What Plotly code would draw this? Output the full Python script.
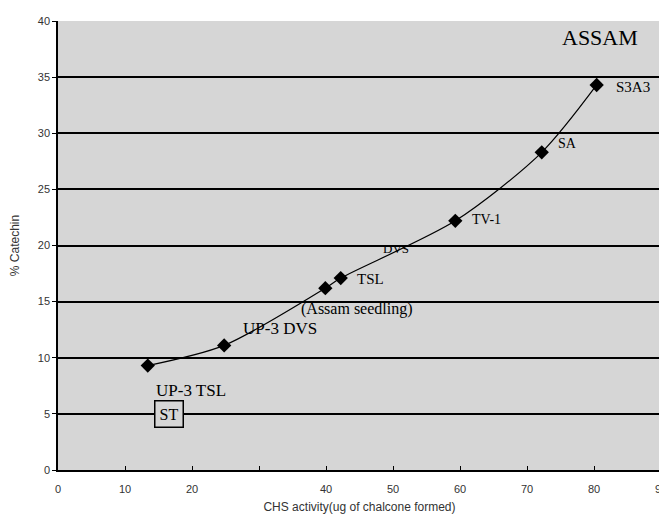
import plotly.graph_objects as go

# Data
chs_activity = [13.4, 24.8, 39.9, 42.2, 59.3, 72.2, 80.4]
pct_catechin = [9.3, 11.1, 16.2, 17.1, 22.2, 28.3, 34.3]

label_text = ["UP-3 TSL", "UP-3 DVS", "(Assam seedling)", "TSL", "DVS", "TV-1", "SA", "S3A3"]
label_x = [19.9, 33.1, 44.6, 46.6, 50.4, 63.9, 76.1, 85.8]
label_y = [7.1, 12.6, 14.3, 17.0, 19.7, 22.3, 29.1, 34.1]

box_label = "ST"
box_x = 16.6
box_y = 5.0

corner_label = "ASSAM"

x_tickvals = [0, 10, 20, 30, 40, 50, 60, 70, 80, 90]
x_ticktext = ["0", "10", "20", "", "40", "50", "60", "70", "80", "90"]
y_tickvals = [0, 5, 10, 15, 20, 25, 30, 35, 40]

# styling (font size per label)
label_font_sizes = [17, 17, 16, 15, 13, 14, 14, 15]

fig = go.Figure()
fig.add_trace(go.Scatter(
    x=chs_activity, y=pct_catechin, mode="lines+markers",
    line=dict(color="black", width=1.2, shape="spline", smoothing=0.8),
    marker=dict(symbol="diamond", size=11, color="black"),
    showlegend=False, hoverinfo="skip", cliponaxis=False))

serif = "Liberation Serif"
for t, x, y, fs in zip(label_text, label_x, label_y, label_font_sizes):
    fig.add_annotation(x=x, y=y, text=t, showarrow=False,
                       font=dict(family=serif, size=fs, color="black"))

fig.add_annotation(x=box_x, y=box_y, text=box_label, showarrow=False,
                   font=dict(family=serif, size=16, color="black"),
                   bordercolor="black", borderwidth=1.5, borderpad=4,
                   bgcolor="#d6d6d6")

fig.add_annotation(x=0.965, y=0.995, xref="paper", yref="paper", text=corner_label,
                   showarrow=False, xanchor="right", yanchor="top",
                   font=dict(family=serif, size=22, color="black"))

# Page body has an 8px margin, so the figure is sized/margined to place the plot area
fig.update_layout(
    width=659, height=508,
    margin=dict(l=50, r=6, t=13, b=46),
    paper_bgcolor="white", plot_bgcolor="#d6d6d6",
    font=dict(family="Liberation Sans", size=11, color="#333333"),
    xaxis=dict(range=[0, 90], tickvals=x_tickvals, ticktext=x_ticktext,
               showgrid=False, zeroline=False, showline=True, linecolor="black",
               linewidth=1.5, ticks="inside", ticklen=4, tickcolor="black",
               automargin=False, ticklabeloverflow="allow", ticklabelstandoff=8,
               title=dict(text="CHS activity(ug of chalcone formed)", standoff=9,
                          font=dict(size=12, color="#333333"))),
    yaxis=dict(range=[0, 40], tickvals=y_tickvals, showgrid=True,
               gridcolor="black", gridwidth=1.5, zeroline=False, showline=True,
               linecolor="black", linewidth=1.5, ticks="outside", ticklen=4,
               tickcolor="black", automargin=False,
               title=dict(text="% Catechin", standoff=16,
                          font=dict(size=12, color="#333333"))),
)

fig.write_html("out.html")
